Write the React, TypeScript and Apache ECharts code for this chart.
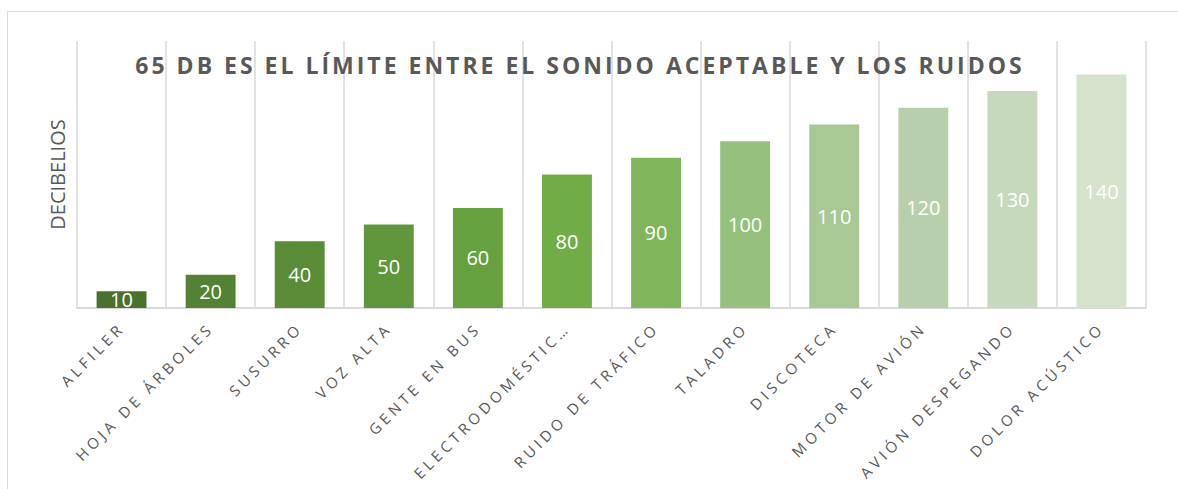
import React, { useEffect, useRef } from "react";
import * as echarts from "echarts";

const categories = [
  "ALFILER",
  "HOJA DE ÁRBOLES",
  "SUSURRO",
  "VOZ ALTA",
  "GENTE EN BUS",
  "ELECTRODOMÉSTICOS",
  "RUIDO DE TRÁFICO",
  "TALADRO",
  "DISCOTECA",
  "MOTOR DE AVIÓN",
  "AVIÓN DESPEGANDO",
  "DOLOR ACÚSTICO",
];
const values = [10, 20, 40, 50, 60, 80, 90, 100, 110, 120, 130, 140];
const barColors = [
  "#4a722c",
  "#548235",
  "#5a8c38",
  "#60963c",
  "#66a140",
  "#70ad47",
  "#80b55c",
  "#96c07e",
  "#a8c894",
  "#b7d0ab",
  "#c6d9bd",
  "#d6e3cc",
];
const titleText = "65 DB ES EL LÍMITE ENTRE EL SONIDO ACEPTABLE Y LOS RUIDOS";
const yName = "DECIBELIOS";

const FONT = "'Open Sans', 'DejaVu Sans', sans-serif";

export default function App() {
  const ref = useRef<HTMLDivElement>(null);
  useEffect(() => {
    if (!ref.current) return;
    const chart = echarts.init(ref.current, undefined, { renderer: "svg" });
    chart.setOption({
      animation: false,
      backgroundColor: "#ffffff",
      title: {
        text: titleText,
        left: 575,
        textAlign: "center",
        top: 48,
        textStyle: {
          fontFamily: FONT,
          fontSize: 23,
          fontWeight: "bold",
          color: "#595959",
        },
      },
      graphic: [
        {
          type: "rect",
          shape: { x: 7.5, y: 11.5, width: 1200, height: 520 },
          style: { fill: "none", stroke: "#d9d9d9", lineWidth: 1 },
          silent: true,
          z: -10,
        },
      ],
      grid: { left: 77, right: 32, top: 41, bottom: 181 },
      xAxis: {
        type: "category",
        data: categories,
        axisLine: { show: true, lineStyle: { color: "#d9d9d9", width: 2 } },
        axisTick: { show: false },
        splitLine: { show: true, lineStyle: { color: "#d9d9d9", width: 1.5 } },
        axisLabel: {
          interval: 0,
          rotate: 45,
          margin: 17,
          fontSize: 15,
          color: "#595959",
          fontFamily: FONT,
          formatter: (v: string) => (v.length > 16 ? v.slice(0, 15) + "…" : v),
        },
      },
      yAxis: {
        type: "value",
        min: 0,
        max: 160,
        axisLabel: { show: false },
        axisLine: { show: false },
        axisTick: { show: false },
        splitLine: { show: false },
        name: yName,
        nameLocation: "middle",
        nameGap: 10,
        nameTextStyle: { fontFamily: FONT, fontSize: 20, color: "#595959" },
      },
      series: [
        {
          type: "bar",
          barCategoryGap: "44%",
          data: values.map((v, i) => ({ value: v, itemStyle: { color: barColors[i] } })),
          label: {
            show: true,
            position: "inside",
            color: "#ffffff",
            fontSize: 20,
            fontFamily: FONT,
          },
        },
      ],
    });
    return () => chart.dispose();
  }, []);
  return (
    <>
      <style>{`
        .chart-box svg text[style*="15px"] { letter-spacing: 4px; }
        .chart-box svg text[style*="23px"] { letter-spacing: 3px; }
      `}</style>
      <div
        ref={ref}
        className="chart-box"
        style={{ position: "fixed", left: 0, top: 0, width: 1178, height: 489 }}
      />
    </>
  );
}
